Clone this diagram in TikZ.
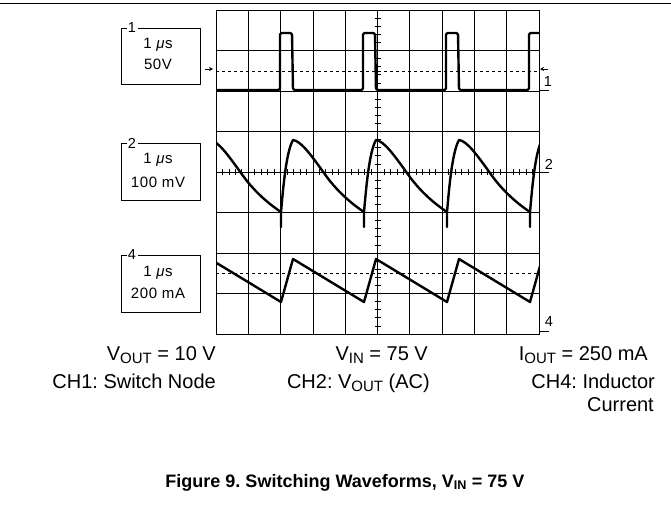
\documentclass[tikz,border=0pt]{standalone}
\usepackage{fontspec}
\setmainfont{Liberation Sans}
\newfontfamily\kastenschrift[LetterSpace=4]{Liberation Sans}
\usetikzlibrary{arrows.meta}
\frenchspacing
\def \rasterL {216}
\def \rasterR {539}
\def \rasterO {10}
\def \rasterU {334}
\def \teilX {32.3}
\def \teilY {40.5}
\newcommand{\tief}[1]{\raisebox{-0.3ex}{\fontsize{15}{15}\selectfont #1}}
\tikzset{
  raster/.style={line width=0.7pt},
  spur/.style={line width=2.4pt,line join=round},
  niveau/.style={line width=0.7pt,dash pattern=on 3pt off 3pt},
  kanal/.style={line width=0.9pt},
  kastentext/.style={font=\kastenschrift\fontsize{15}{16}\selectfont,inner sep=0pt},
  marke/.style={font=\fontsize{14.5}{16}\selectfont,inner sep=0pt},
  legende/.style={font=\fontsize{20}{23}\selectfont,inner sep=0pt},
  pfeil/.style={line width=0.7pt,-{Stealth[length=4pt,width=4pt]}}
}
\begin{document}
\begin{tikzpicture}[x=1pt,y=-1pt]
  \useasboundingbox (0,0) rectangle (671,509);
  \draw[line width=1pt] (0,3.5) -- (671,3.5);
  % raster
  \draw[raster] foreach \i in {0,...,10} {(\rasterL+\i*\teilX,\rasterO) -- (\rasterL+\i*\teilX,\rasterU)};
  \draw[raster] foreach \j in {0,...,8} {(\rasterL,\rasterO+\j*\teilY) -- (\rasterR,\rasterO+\j*\teilY)};
  \draw[line width=1pt] (\rasterL,\rasterO) rectangle (\rasterR,\rasterU);
  \draw[raster] foreach \k in {1,...,39} {(374.5,\rasterO+\k*8.1) -- (380.5,\rasterO+\k*8.1)};
  \draw[raster] foreach \k in {1,...,49} {(\rasterL+\k*6.46,169) -- (\rasterL+\k*6.46,175)};
  \draw[niveau] (\rasterL,71) -- (\rasterR,71);
  \draw[niveau] (\rasterL,273) -- (\rasterR,273);
  % spuren
  \begin{scope}
    \clip (\rasterL,\rasterO) rectangle (\rasterR,\rasterU);
    \draw[spur,rounded corners=1.5pt] (\rasterL,90)
      foreach \t in {280,363,446} {-- (\t,90) -- (\t,33) -- (\t+12,33) -- (\t+13,90)}
      -- (529,90) -- (529,33) -- (545,33);
    \draw[spur] (198,212)
      foreach \m in {198,281,364,447,530} {-- (\m,227) -- (\m,212)
        .. controls (\m+2,190) and (\m+5,152) .. (\m+12,140)
        .. controls (\m+20,141) and (\m+30,155) .. (\m+43,173)
        .. controls (\m+52,186) and (\m+65,200) .. (\m+83,212)};
    \draw[spur] (210,259)
      foreach \m in {281,364,447,530} {-- (\m,302) -- (\m+12,259)};
  \end{scope}
  % pegel
  \coordinate (pegel-links) at (213,69);
  \coordinate (pegel-rechts) at (540,69);
  \draw[pfeil] (205,69) -- (pegel-links);
  \draw[pfeil] (548,69) -- (pegel-rechts);
  \draw[kanal] (\rasterR,90) -- (549,90) (548,82) node[marke] (marke-eins) {1};
  \draw[kanal] (\rasterR,172) -- (549,172) (549,164) node[marke] (marke-zwei) {2};
  \draw[kanal] (\rasterR,331) -- (549,331) (549,322) node[marke] (marke-vier) {4};
  % kaesten
  \draw[kanal] (127,28) -- (121,28) -- (121,84) -- (200,84) -- (200,28) -- (138,28)
  (132,28) node[marke] (kasten-eins) {1}
  (158,45) node[kastentext] {1 \textit{μ}s}
  (158,64) node[kastentext] {50V};
  \draw[kanal] (127,143) -- (121,143) -- (121,200) -- (200,200) -- (200,143) -- (138,143)
  (132,143) node[marke] (kasten-zwei) {2}
  (158,160) node[kastentext] {1 \textit{μ}s}
  (158,182) node[kastentext] {100 mV};
  \draw[kanal] (127,255) -- (121,255) -- (121,312) -- (200,312) -- (200,255) -- (138,255)
  (132,255) node[marke] (kasten-vier) {4}
  (158,273) node[kastentext] {1 \textit{μ}s}
  (158,293) node[kastentext] {200 mA};
  % legende
  \node[legende,anchor=base east] (vout) at (216,360) {V\tief{OUT} = 10 V};
  \node[legende,anchor=base east] (ch-eins) at (216,388) {CH1: Switch Node};
  \node[legende,anchor=base east] (vin) at (428,360) {V\tief{IN} = 75 V};
  \node[legende,anchor=base east] (ch-zwei) at (430,388) {CH2: V\tief{OUT} (AC)};
  \node[legende,anchor=base east] (iout) at (648,360) {I\tief{OUT} = 250 mA};
  \node[legende,anchor=base east] (ch-vier) at (655,388) {CH4: Inductor};
  \node[legende,anchor=base east] (strom) at (654,411) {Current};
  \node[font=\bfseries\fontsize{18}{21}\selectfont,inner sep=0pt,anchor=base] (titel) at (345,487)
  {Figure 9. Switching Waveforms, V\textsubscript{IN} = 75 V};
\end{tikzpicture}
\end{document}
